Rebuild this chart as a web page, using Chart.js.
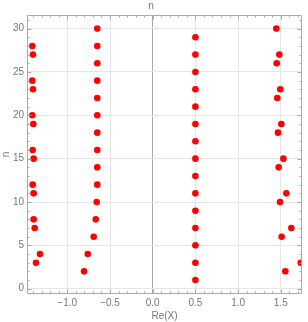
<!DOCTYPE html>
<html>
<head>
<meta charset="utf-8">
<script src="https://cdn.jsdelivr.net/npm/chart.js@4"></script>
<style>
  html, body { margin: 0; padding: 0; background: #fff; }
  canvas { display: block; }
</style>
</head>
<body>
<canvas id="myChart" width="308" height="322"></canvas>
<script>
// four columns of points, n against Re(X)
const colA_n  = [3, 4, 7, 8, 11, 12, 15, 16, 19, 20, 23, 24, 27, 28];
const colA_re = [-1.367, -1.320, -1.382, -1.394, -1.394, -1.405, -1.394, -1.405, -1.398, -1.410, -1.402, -1.410, -1.402, -1.410];

const colB_n  = [2, 4, 6, 8, 10, 12, 14, 16, 18, 20, 22, 24, 26, 28, 30];
const colB_re = [-0.804, -0.761, -0.691, -0.667, -0.656, -0.649, -0.649, -0.649, -0.649, -0.649, -0.649, -0.649, -0.649, -0.649, -0.649];

const colC_n  = [1, 3, 5, 7, 9, 11, 13, 15, 17, 19, 21, 23, 25, 27, 29];
const colC_re = [0.5, 0.5, 0.5, 0.5, 0.5, 0.5, 0.5, 0.5, 0.5, 0.5, 0.5, 0.5, 0.5, 0.5, 0.5];

const colD_n  = [2, 3, 6, 7, 10, 11, 14, 15, 18, 19, 22, 23, 26, 27, 30];
const colD_re = [1.553, 1.733, 1.510, 1.623, 1.491, 1.565, 1.475, 1.530, 1.467, 1.506, 1.459, 1.494, 1.452, 1.483, 1.447];

const xMajorTicks = [-1.0, -0.5, 0, 0.5, 1.0, 1.5];
const yMajorTicks = [0, 5, 10, 15, 20, 25, 30];

function pointsOf(ns, res) {
    return ns.map((n, i) => ({ x: res[i], y: n }));
}

const allPoints = [].concat(
    pointsOf(colA_n, colA_re),
    pointsOf(colB_n, colB_re),
    pointsOf(colC_n, colC_re),
    pointsOf(colD_n, colD_re)
);

const isMajor = (v, majors) => majors.some(m => Math.abs(m - v) < 1e-6);

// tick positions incl. minor ones
function tickRange(from, to, step) {
    const out = [];
    for (let k = Math.round(from / step); k * step <= to + 1e-9; k++) {
        out.push(Math.round(k * step * 1000) / 1000);
    }
    return out;
}
const xAllTicks = tickRange(-1.4, 1.7, 0.1);
const yAllTicks = tickRange(0, 31, 1);

function fmtX(v) {
    const s = Math.abs(v).toFixed(1);
    return v < 0 ? '\u2212' + s : s;
}

const frameColor = '#aaaaaa';
const labelColor = '#777777';

// Mathematica-like frame with inward ticks on all four sides
const frameTicks = {
    id: 'frameTicks',
    afterDraw(chart) {
        const { ctx, chartArea: a, scales: { x, y } } = chart;
        ctx.save();
        ctx.strokeStyle = frameColor;
        ctx.lineWidth = 1;
        ctx.beginPath();
        const L = a.left + 0.5, R = a.right - 0.5, T = a.top + 0.5, B = a.bottom - 0.5;
        ctx.moveTo(L, T); ctx.lineTo(R, T); ctx.lineTo(R, B); ctx.lineTo(L, B); ctx.closePath();
        xAllTicks.forEach(v => {
            const px = Math.round(x.getPixelForValue(v)) + 0.5;
            const len = isMajor(v, xMajorTicks) ? 4 : 2;
            ctx.moveTo(px, B); ctx.lineTo(px, B - len);
            ctx.moveTo(px, T); ctx.lineTo(px, T + len);
        });
        yAllTicks.forEach(v => {
            const py = Math.round(y.getPixelForValue(v)) + 0.5;
            const len = isMajor(v, yMajorTicks) ? 4 : 2;
            ctx.moveTo(L, py); ctx.lineTo(L + len, py);
            ctx.moveTo(R, py); ctx.lineTo(R - len, py);
        });
        ctx.stroke();
        ctx.restore();
    }
};

const ctx = document.getElementById('myChart').getContext('2d');
const myChart = new Chart(ctx, {
    type: 'scatter',
    data: {
        datasets: [{
            label: 'roots',
            data: allPoints,
            backgroundColor: '#ff0000',
            borderWidth: 0,
            pointRadius: 3.3,
            pointHoverRadius: 3.3
        }]
    },
    options: {
        responsive: false,
        animation: false,
        layout: { padding: { left: 0, right: 6, top: 0, bottom: 0 } },
        plugins: {
            legend: { display: false },
            tooltip: { enabled: false },
            title: {
                display: true,
                text: 'n',
                color: labelColor,
                font: { family: 'Liberation Sans', size: 10, weight: 'normal', lineHeight: 1.2 },
                padding: { top: 0, bottom: 3 }
            }
        },
        scales: {
            x: {
                type: 'linear',
                min: -1.472,
                max: 1.748,
                afterBuildTicks: s => { s.ticks = xAllTicks.map(v => ({ value: v })); },
                afterFit: s => { s.height = 28; },
                border: { display: false },
                grid: {
                    drawTicks: false,
                    color: c => {
                        const v = c.tick ? c.tick.value : NaN;
                        if (Math.abs(v) < 1e-6) return frameColor;
                        return isMajor(v, xMajorTicks) ? '#e6e6e6' : 'rgba(0,0,0,0)';
                    }
                },
                ticks: {
                    autoSkip: false,
                    maxRotation: 0,
                    padding: 3,
                    color: labelColor,
                    font: { family: 'Liberation Sans', size: 10 },
                    callback: v => isMajor(v, xMajorTicks) ? fmtX(v) : ''
                },
                title: {
                    display: true,
                    text: 'Re(X)',
                    color: labelColor,
                    font: { family: 'Liberation Sans', size: 10, lineHeight: 1.2 },
                    padding: { top: 0, bottom: 0 }
                }
            },
            y: {
                type: 'linear',
                min: -0.61,
                max: 31.57,
                afterBuildTicks: s => { s.ticks = yAllTicks.map(v => ({ value: v })); },
                afterFit: s => { s.width = 27; },
                border: { display: false },
                grid: {
                    drawTicks: false,
                    color: c => {
                        const v = c.tick ? c.tick.value : NaN;
                        return isMajor(v, yMajorTicks) ? '#e6e6e6' : 'rgba(0,0,0,0)';
                    }
                },
                ticks: {
                    autoSkip: false,
                    padding: 3,
                    color: labelColor,
                    font: { family: 'Liberation Sans', size: 10 },
                    callback: v => isMajor(v, yMajorTicks) ? String(v) : ''
                },
                title: {
                    display: true,
                    text: 'n',
                    color: labelColor,
                    font: { family: 'Liberation Sans', size: 10, lineHeight: 1.2 },
                    padding: { top: 0, bottom: 0 }
                }
            }
        }
    },
    plugins: [frameTicks]
});
</script>
</body>
</html>
